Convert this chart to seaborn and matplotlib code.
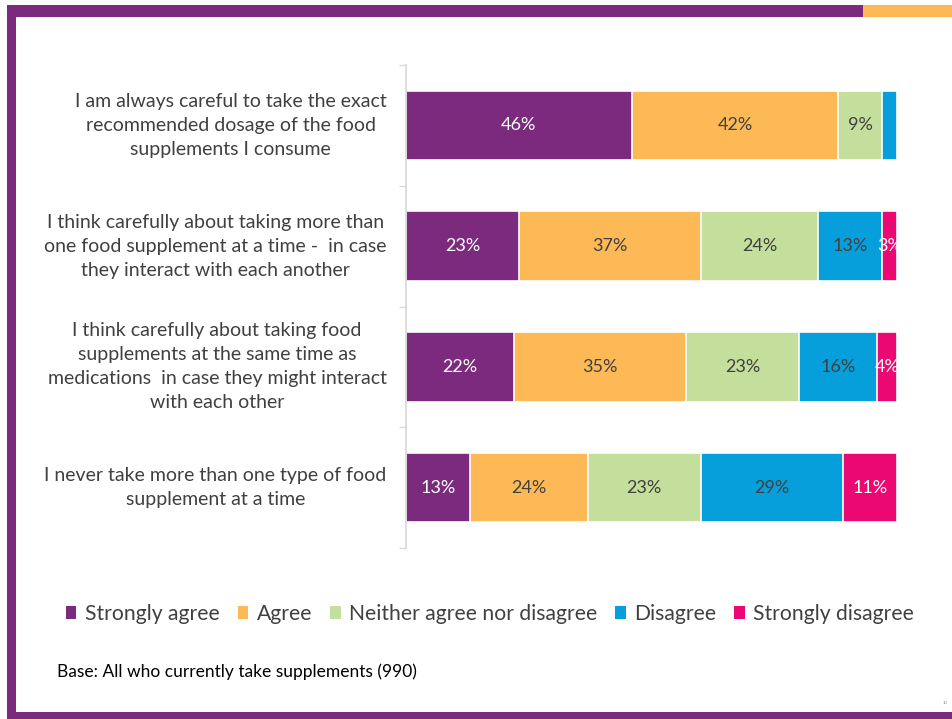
import numpy as np
import pandas as pd
import matplotlib
matplotlib.use("Agg")
import matplotlib.pyplot as plt
import seaborn as sns
from matplotlib.patches import Patch, Rectangle

# DATA

statements = [
    "I am always careful to take the exact\nrecommended dosage of the food\nsupplements I consume",
    "I think carefully about taking more than\none food supplement at a time -  in case\nthey interact with each another",
    "I think carefully about taking food\nsupplements at the same time as\nmedications  in case they might interact\nwith each other",
    "I never take more than one type of food\nsupplement at a time",
]
responses = ["Strongly agree", "Agree", "Neither agree nor disagree", "Disagree", "Strongly disagree"]

strongly_agree = [46, 23, 22, 13]
agree = [42, 37, 35, 24]
neither = [9, 24, 23, 23]
disagree = [3, 13, 16, 29]
strongly_disagree = [0, 3, 4, 11]

# labels not printed on the original (row, response)
hidden_labels = [(0, 3)]

colors = ["#7B2A7E", "#FDB955", "#C4DE9C", "#069FDB", "#EC0872"]
label_colors = ["white", "#404040", "#404040", "#404040", "white"]

BORDER = "#7B2A7E"
ORANGE = "#FDB955"

# PLOT

sns.set_theme(style="white")
plt.rcParams["font.family"] = ["Lato", "DejaVu Sans"]

fig = plt.figure(figsize=(9.52, 7.19), dpi=100)
ax = fig.add_axes([406 / 952, 1 - 548 / 719, (897 - 406) / 952, (548 - 65) / 719])

df = pd.DataFrame(
    np.array([strongly_agree, agree, neither, disagree, strongly_disagree]).T,
    columns=responses,
)
df["statement"] = statements
cum = df[responses].cumsum(axis=1)

# stacked bars : on dessine les cumuls du plus grand au plus petit
for i in range(len(responses) - 1, -1, -1):
    sns.barplot(x=cum[responses[i]], y=df["statement"], color=colors[i],
                orient="h", width=0.575, edgecolor="white", linewidth=1.2,
                saturation=1, ax=ax)

for r in range(len(statements)):
    for i, resp in enumerate(responses):
        val = df.loc[r, resp]
        if val <= 0 or (r, i) in hidden_labels:
            continue
        center = cum.loc[r, resp] - val / 2
        ax.text(center, r, f"{val}%", ha="center", va="center",
                color=label_colors[i], fontsize=13, clip_on=True)

ax.set_xlim(0, 100)
ax.set_ylim(3.5, -0.5)
ax.set_xlabel("")
ax.set_ylabel("")
ax.set_xticks([])
ax.set_yticks(range(len(statements)))
ax.set_yticklabels(statements, multialignment="center", linespacing=1.5,
                   fontsize=14, color="#404040", va="center")
ax.set_yticks(np.arange(-0.5, 4, 1), minor=True)
ax.tick_params(axis="y", which="major", length=0, pad=14)
ax.tick_params(axis="y", which="minor", length=5, color="#D9D9D9", width=1, left=True)
for s in ["top", "right", "bottom"]:
    ax.spines[s].set_visible(False)
ax.spines["left"].set_color("#D9D9D9")

handles = [Patch(facecolor=c, edgecolor="none") for c in colors]
fig.legend(handles, responses, loc="center", bbox_to_anchor=(490 / 952, 1 - 614 / 719),
           ncol=5, frameon=False, fontsize=15.2, handlelength=0.5, handleheight=0.5,
           handletextpad=0.4, columnspacing=0.85, labelcolor="#404040")

fig.text(57 / 952, 1 - 672 / 719, "Base: All who currently take supplements (990)",
         fontsize=12.5, color="black", va="center")
fig.text(945 / 952, 1 - 703 / 719, "10", fontsize=3, color="#808080", ha="center", va="center")

# cadre de la diapo
W, H = 952, 719
def frame_rect(x0, y0, x1, y1, color):
    fig.patches.append(Rectangle((x0 / W, 1 - y1 / H), (x1 - x0) / W, (y1 - y0) / H,
                                 transform=fig.transFigure, facecolor=color,
                                 edgecolor="none", zorder=5))

frame_rect(7, 5, 863, 17, BORDER)
frame_rect(863, 5, 952, 17, ORANGE)
frame_rect(7, 5, 16, 719, BORDER)
frame_rect(7, 712, 952, 719, BORDER)

fig.savefig("out.png", dpi=100)
